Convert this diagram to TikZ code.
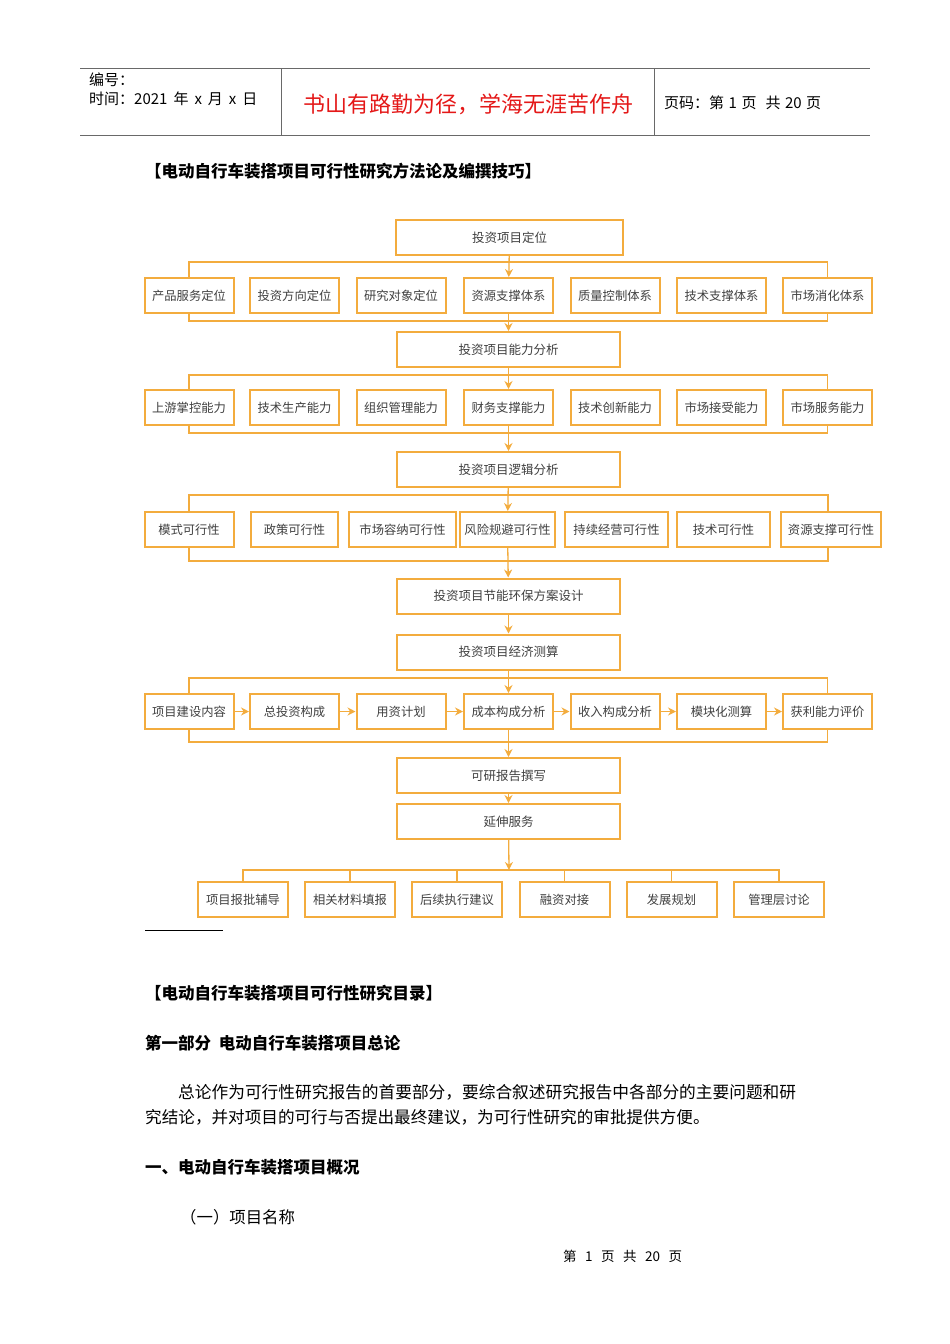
\documentclass[tikz,border=0pt]{standalone}
\usepackage{fontspec}
\setmainfont{Noto Sans CJK SC}
\usetikzlibrary{arrows.meta,positioning}
\definecolor{flow}{RGB}{243,172,62}
\definecolor{slogan}{RGB}{228,24,24}
\definecolor{rulegray}{RGB}{105,105,105}
\tikzset{
  mainbox/.style={draw=flow, line width=2pt, fill=white, minimum width=223pt, minimum height=35pt, inner sep=1pt, font=\fontsize{12.5}{14}\selectfont, text=black!75},
  subbox/.style={draw=flow, line width=2pt, fill=white, minimum width=89pt, minimum height=35pt, inner sep=1pt, font=\fontsize{12.3}{14}\selectfont, text=black!75},
  link/.style={flow, line width=1.3pt},
  flowarrow/.style={flow, line width=1.3pt, -{Stealth[length=8pt,width=8pt]}},
  plain/.style={anchor=west, inner sep=0pt, font=\fontsize{15}{18}\selectfont},
  heading/.style={anchor=west, inner sep=0pt, font=\fontsize{16.5}{19}\selectfont\bfseries},
}

\begin{document}
\begin{tikzpicture}[x=1pt, y=-1pt]
\useasboundingbox (0,0) rectangle (950,1344);

% page header
\draw[rulegray, line width=1pt] (80,68) -- (870,68);
\draw[rulegray, line width=1pt] (80,135) -- (870,135);
\draw[rulegray, line width=0.8pt] (281,68) -- (281,135);
\draw[rulegray, line width=0.8pt] (654,68) -- (654,135);
\node[plain, font=\fontsize{15}{16}\selectfont] (num) at (89,80) {编号：};
\node[plain, font=\fontsize{15}{16}\selectfont] (date) at (89,99) {时间：2021\hspace{6pt}年\hspace{6pt}x\hspace{6pt}月\hspace{6pt}x\hspace{6pt}日};
\node[inner sep=0pt, text=slogan, font=\fontsize{22}{24}\selectfont] (motto) at (468,104) {书山有路勤为径，学海无涯苦作舟};
\node[plain, font=\fontsize{15}{16}\selectfont] (pageno) at (664,103) {页码：第\hspace{4.5pt}1\hspace{4.5pt}页\hspace{9pt}共\hspace{4.5pt}20\hspace{4.5pt}页};

\node[heading] (title) at (145,171) {【电动自行车装搭项目可行性研究方法论及编撰技巧】};

% positioning
\node[mainbox, minimum width=227pt] (pos) at (509.5,237.5) {投资项目定位};
\node[subbox] (p1) at (189,295.5) {产品服务定位};
\node[subbox] (p2) at (294.5,295.5) {投资方向定位};
\node[subbox] (p3) at (401,295.5) {研究对象定位};
\node[subbox] (p4) at (508.5,295.5) {资源支撑体系};
\node[subbox] (p5) at (615,295.5) {质量控制体系};
\node[subbox] (p6) at (721.5,295.5) {技术支撑体系};
\node[subbox] (p7) at (827.5,295.5) {市场消化体系};
\draw[link] (p1.north) |- (p7.north |- 0,262) -- (p7.north);
\draw[link] (p1.south) |- (p7.south |- 0,321) -- (p7.south);
\draw[flowarrow] (pos) -- (p4);

% capability
\node[mainbox] (cap) at (508.5,349.5) {投资项目能力分析};
\node[subbox] (c1) at (189,407.5) {上游掌控能力};
\node[subbox] (c2) at (294.5,407.5) {技术生产能力};
\node[subbox] (c3) at (401,407.5) {组织管理能力};
\node[subbox] (c4) at (508.5,407.5) {财务支撑能力};
\node[subbox] (c5) at (615,407.5) {技术创新能力};
\node[subbox] (c6) at (721.5,407.5) {市场接受能力};
\node[subbox] (c7) at (827.5,407.5) {市场服务能力};
\draw[flowarrow] (p4) -- (cap);
\draw[link] (c1.north) |- (c7.north |- 0,375) -- (c7.north);
\draw[link] (c1.south) |- (c7.south |- 0,433) -- (c7.south);
\draw[flowarrow] (cap) -- (c4);

% logic
\node[mainbox] (logic) at (508.5,469.5) {投资项目逻辑分析};
\node[subbox] (l1) at (189,529.5) {模式可行性};
\node[subbox, minimum width=87pt] (l2) at (294.5,529.5) {政策可行性};
\node[subbox, minimum width=107pt] (l3) at (402.5,529.5) {市场容纳可行性};
\node[subbox, minimum width=95pt] (l4) at (507.5,529.5) {风险规避可行性};
\node[subbox, minimum width=103pt] (l5) at (616.5,529.5) {持续经营可行性};
\node[subbox, minimum width=93pt] (l6) at (723.5,529.5) {技术可行性};
\node[subbox, minimum width=100pt] (l7) at (831,529.5) {资源支撑可行性};
\draw[flowarrow] (c4) -- (logic);
\draw[link] (l1.north) |- (828,495) -- (828,512);
\draw[link] (l1.south) |- (828,561) -- (828,547);
\draw[flowarrow] (logic) -- (l4);

% energy and economics
\node[mainbox] (energy) at (508.5,596) {投资项目节能环保方案设计};
\node[mainbox] (econ) at (508.5,652) {投资项目经济测算};
\draw[flowarrow] (l4) -- (energy);
\draw[flowarrow] (energy) -- (econ);
\node[subbox] (e1) at (189,711.5) {项目建设内容};
\node[subbox] (e2) at (294.5,711.5) {总投资构成};
\node[subbox] (e3) at (401,711.5) {用资计划};
\node[subbox] (e4) at (508.5,711.5) {成本构成分析};
\node[subbox] (e5) at (615,711.5) {收入构成分析};
\node[subbox] (e6) at (721.5,711.5) {模块化测算};
\node[subbox] (e7) at (827.5,711.5) {获利能力评价};
\draw[link] (e1.north) |- (e7.north |- 0,678) -- (e7.north);
\draw[link] (e1.south) |- (e7.south |- 0,742) -- (e7.south);
\draw[flowarrow] (econ) -- (e4);
\draw[flowarrow] (e1) -- (e2);
\draw[flowarrow] (e2) -- (e3);
\draw[flowarrow] (e3) -- (e4);
\draw[flowarrow] (e4) -- (e5);
\draw[flowarrow] (e5) -- (e6);
\draw[flowarrow] (e6) -- (e7);

% report and services
\node[mainbox] (report) at (508.5,775.5) {可研报告撰写};
\node[mainbox] (ext) at (508.5,821.5) {延伸服务};
\draw[flowarrow] (e4) -- (report);
\draw[flowarrow] (report) -- (ext);
\coordinate (busS) at (509,870);
\node[subbox, minimum width=90pt] (s1) at (243,899.5) {项目报批辅导};
\node[subbox, minimum width=90pt] (s2) at (350,899.5) {相关材料填报};
\node[subbox, minimum width=90pt] (s3) at (457,899.5) {后续执行建议};
\node[subbox, minimum width=90pt] (s4) at (564.5,899.5) {融资对接};
\node[subbox, minimum width=90pt] (s5) at (671.5,899.5) {发展规划};
\node[subbox, minimum width=90pt] (s6) at (779,899.5) {管理层讨论};
\draw[link] (s1.north) |- (s6.north |- busS) -- (s6.north);
\draw[link] (s2.north) -- (s2.north |- busS);
\draw[link] (s3.north) -- (s3.north |- busS);
\draw[link] (s4.north) -- (s4.north |- busS);
\draw[link] (s5.north) -- (s5.north |- busS);
\draw[flowarrow] (ext) -- (busS);

% footnote rule
\draw[black, line width=0.8pt] (145,930) -- (223,930);

% body text
\node[heading] (toc) at (145,993) {【电动自行车装搭项目可行性研究目录】};
\node[heading] (part) at (145,1043) {第一部分\ \ 电动自行车装搭项目总论};
\node[plain, font=\fontsize{16.7}{20}\selectfont] (para1) at (178,1092) {总论作为可行性研究报告的首要部分，要综合叙述研究报告中各部分的主要问题和研};
\node[plain, font=\fontsize{16.6}{20}\selectfont] (para2) at (145,1117) {究结论，并对项目的可行与否提出最终建议，为可行性研究的审批提供方便。};
\node[heading] (sec) at (145,1167) {一、电动自行车装搭项目概况};
\node[plain, font=\fontsize{16.4}{20}\selectfont] (item) at (180,1217) {（一）项目名称};
\node[plain, font=\fontsize{13.5}{15}\selectfont] (foot) at (563,1256) {第\hspace{8.5pt}1\hspace{8.5pt}页\hspace{8.5pt}共\hspace{8.5pt}20\hspace{8.5pt}页};
\end{tikzpicture}
\end{document}
